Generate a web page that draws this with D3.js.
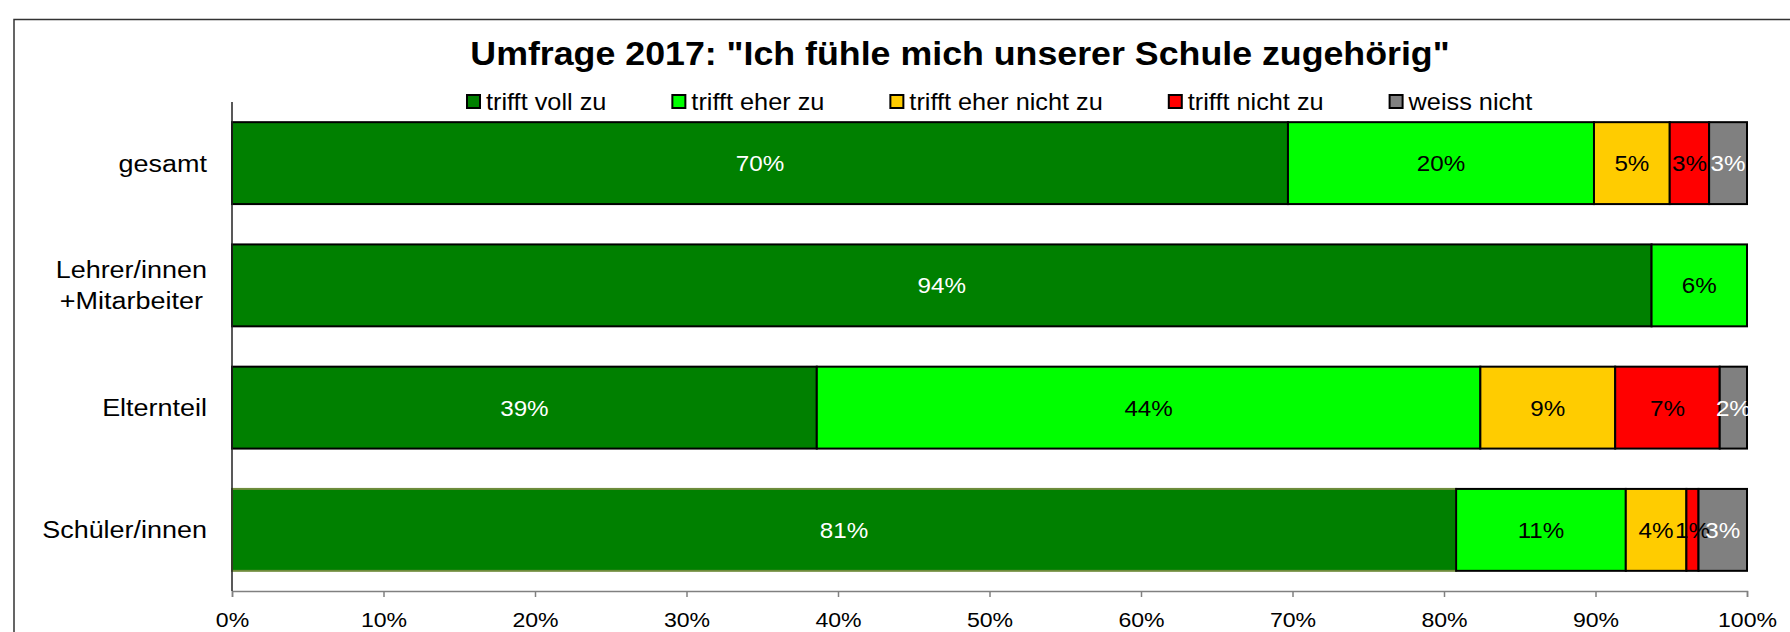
<!DOCTYPE html>
<meta charset="utf-8">
<style>
	body { margin: 0; background: #fff; }
	svg text { font-family: "Liberation Sans", Arial, sans-serif; }
</style>
<body>
<svg id="svg"></svg>
<script src="https://cdn.jsdelivr.net/npm/d3@7"></script>
<script>

// DATA
var title = 'Umfrage 2017: "Ich fühle mich unserer Schule zugehörig"'
var categories = [ "gesamt", "Lehrer/innen\n+Mitarbeiter", "Elternteil", "Schüler/innen" ]
var series = [ "trifft voll zu", "trifft eher zu", "trifft eher nicht zu", "trifft nicht zu", "weiss nicht" ]

var vollZu     = [ 69.7, 93.7, 38.6, 80.8 ]
var eherZu     = [ 20.2,  6.3, 43.8, 11.2 ]
var eherNicht  = [  5.0,  0.0,  8.9,  4.0 ]
var nichtZu    = [  2.6,  0.0,  6.9,  0.8 ]
var weissNicht = [  2.5,  0.0,  1.8,  3.2 ]

var xTicks = [ 0, 10, 20, 30, 40, 50, 60, 70, 80, 90, 100 ]

var colors = [ "#008000", "#00ff00", "#ffcc00", "#ff0000", "#808080" ]
var labelColors = [ "#fff", "#000", "#000", "#000", "#fff" ]

// CANVAS
var width = 1790
var height = 632
var SX = 1.1   // text in the original is slightly stretched horizontally

var svg = d3.select( '#svg' )
	.attr( 'width', width )
	.attr( 'height', height )

var plot = { left: 232, right: 1747, top: 102, bottom: 591 }

// outer frame
svg.append( 'rect' )
	.attr( 'x', 14 ).attr( 'y', 19.5 )
	.attr( 'width', 1800 ).attr( 'height', 700 )
	.attr( 'fill', 'none' )
	.attr( 'stroke', '#333' )
	.attr( 'stroke-width', 1.5 )

function stretched( sel, x, y ){
	return sel.attr( 'transform', 'translate(' + x + ',' + y + ') scale(' + SX + ',1)' )
}

// TITLE
stretched( svg.append( 'text' ), 960, 65 )
	.attr( 'text-anchor', 'middle' )
	.style( 'font-size', '32.5px' )
	.style( 'font-weight', 'bold' )
	.text( title )

// SCALES
var x = d3.scaleLinear().domain([ 0, 100 ]).range([ plot.left, plot.right ])
var y = d3.scaleBand()
	.domain( categories )
	.range([ plot.top, plot.bottom ])
	.paddingInner( 0.33 )
	.paddingOuter( 0.165 )

// STACK
var values = [ vollZu, eherZu, eherNicht, nichtZu, weissNicht ]
var rows = categories.map(( c, i )=> {
	var r = { cat: c }
	series.forEach(( s, j )=> { r[ s ] = values[ j ][ i ] })
	return r
})
var stacked = d3.stack().keys( series )( rows )

var bars = svg.append( 'g' )
stacked.forEach(( layer, j )=> {
	var g = bars.append( 'g' )
	g.selectAll( 'rect' )
		.data( layer.filter( d => d[ 1 ] - d[ 0 ] > 0 ))
		.enter()
		.append( 'rect' )
			.attr( 'x', d => x( d[ 0 ] ))
			.attr( 'y', d => y( d.data.cat ))
			.attr( 'width', d => x( d[ 1 ] ) - x( d[ 0 ] ))
			.attr( 'height', y.bandwidth() )
			.attr( 'fill', colors[ j ] )
			.attr( 'stroke', d => ( j == 0 && d.data.cat == "Schüler/innen" ) ? '#6f8c3c' : '#000' )
			.attr( 'stroke-width', 2 )
})

// value labels
stacked.forEach(( layer, j )=> {
	layer.filter( d => d[ 1 ] - d[ 0 ] > 0 ).forEach( d => {
		var cx = x(( d[ 0 ] + d[ 1 ] ) / 2 )
		var cy = y( d.data.cat ) + y.bandwidth() / 2 + 8
		stretched( svg.append( 'text' ), cx, cy )
			.attr( 'text-anchor', 'middle' )
			.style( 'font-size', '22px' )
			.style( 'fill', labelColors[ j ] )
			.text( Math.round( d[ 1 ] - d[ 0 ] ) + '%' )
	})
})

// X AXIS
var xAxis = svg.append( 'g' )
	.attr( 'transform', 'translate(0,' + plot.bottom + ')' )
	.call( d3.axisBottom( x ).tickValues( xTicks ).tickSize( 6 ).tickFormat( d => d + '%' ))
xAxis.select( '.domain' ).attr( 'stroke', '#808080' ).attr( 'stroke-width', 1.5 )
xAxis.selectAll( '.tick line' ).attr( 'stroke', '#808080' ).attr( 'stroke-width', 1.5 )
xAxis.selectAll( '.tick text' )
	.attr( 'y', 36 ).attr( 'dy', null )
	.attr( 'transform', 'scale(' + SX + ',1)' )
	.style( 'font-size', '21px' )
	.style( 'font-family', '"Liberation Sans", Arial, sans-serif' )
	.attr( 'fill', '#000' )

// Y AXIS
svg.append( 'line' )
	.attr( 'x1', plot.left ).attr( 'x2', plot.left )
	.attr( 'y1', plot.top ).attr( 'y2', plot.bottom )
	.attr( 'stroke', '#222' )
	.attr( 'stroke-width', 1.5 )

categories.forEach( c => {
	var lines = c.split( '\n' )
	var t = svg.append( 'text' )
		.attr( 'text-anchor', 'middle' )
		.style( 'font-size', '24.5px' )
	lines.forEach(( l, i )=> {
		t.append( 'tspan' )
			.attr( 'x', 0 )
			.attr( 'y', ( i - ( lines.length - 1 ) / 2 ) * 31 )
			.text( l )
	})
	var w = t.node().getBBox().width * SX
	stretched( t, 207 - w / 2, y( c ) + y.bandwidth() / 2 + 8.5 )
})

// LEGEND
var legend = svg.append( 'g' )
var lx = 466
series.forEach(( s, j )=> {
	legend.append( 'rect' )
		.attr( 'x', lx + 1 ).attr( 'y', 95 )
		.attr( 'width', 13 ).attr( 'height', 13 )
		.attr( 'fill', colors[ j ] )
		.attr( 'stroke', '#000' )
		.attr( 'stroke-width', 2 )
	var t = stretched( legend.append( 'text' ), lx + 20, 110 )
		.style( 'font-size', '23px' )
		.text( s )
	lx += 20 + t.node().getBBox().width * SX + 65
})

</script>
</body>
